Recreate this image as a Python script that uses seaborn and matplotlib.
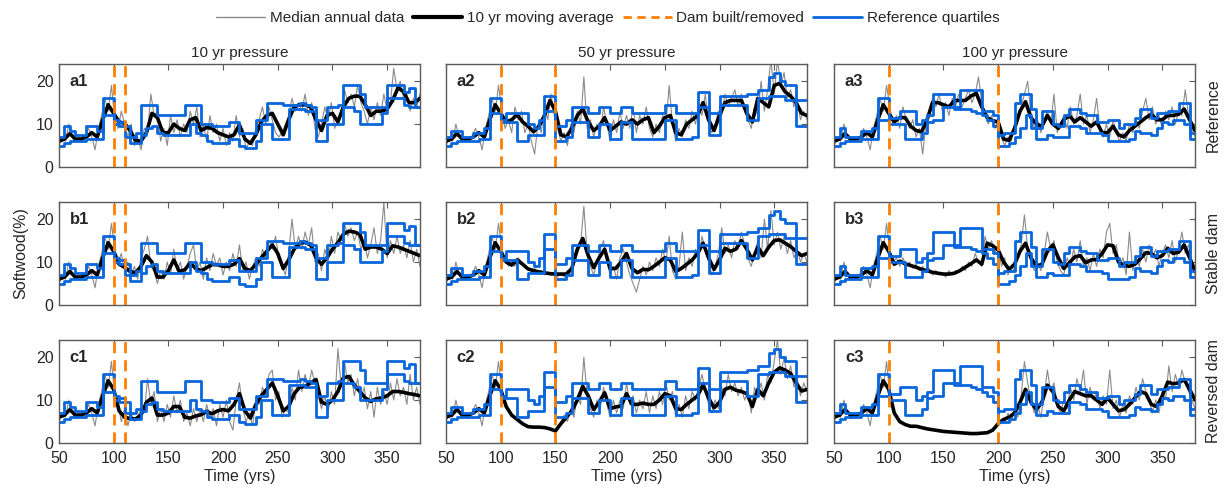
import numpy as np
import matplotlib
matplotlib.use("Agg")
import matplotlib.pyplot as plt
import seaborn as sns
from matplotlib.lines import Line2D

# ---- time grids ----
YEARS_MA = np.arange(50, 381, 5)      # 10 yr moving average, sampled every 5 yrs
YEARS_ANN = np.arange(50, 381, 3)     # median annual data, sampled every 3 yrs
YEARS_Q = np.arange(50, 381, 5)       # reference quartiles (step values)

# ---- shared spin-up (identical in all panels) ----
MA_SPINUP = [6.0, 6.5, 7.8, 6.5, 6.5, 7.0, 8.0, 7.0, 11.0, 14.5]               # 50..95
ANN_SPINUP = [5, 7, 6, 10, 7, 6, 7, 6, 7, 9, 7, 4, 9, 12, 16, 13, 19]          # 50..98

# ---- 10 yr moving average, years 100..380 ----
MA_A1 = [12.5, 10.5, 10.2, 8.5, 6.2, 6.0, 8.0, 12.5, 11.5, 8.0,
         8.0, 10.0, 9.0, 8.5, 11.0, 11.5, 8.5, 9.2, 9.0, 8.0,
         7.5, 7.0, 7.5, 9.8, 6.5, 5.5, 7.5, 10.5, 12.0, 12.5,
         10.0, 7.5, 11.0, 14.0, 14.5, 14.5, 14.0, 11.0, 8.5, 12.0,
         12.5, 10.5, 14.0, 16.0, 16.5, 16.5, 14.5, 12.0, 13.0, 13.0,
         13.5, 15.5, 18.5, 17.5, 15.0, 15.0, 16.0]
MA_A2 = [12.5, 10.5, 11, 12.2, 10.5, 9.5, 8.2, 9.5, 12, 15.5,
         13, 7.5, 7, 9, 12, 13.5, 10.5, 8.5, 9.5, 11.5,
         8.5, 9.5, 10.5, 10, 11, 10, 11, 11.5, 8, 9.5,
         11.5, 12, 8, 7.5, 10, 11, 12, 15, 11, 8.5,
         12, 15, 15.5, 15.5, 15.5, 12.5, 10.5, 16, 15, 14,
         19, 19.5, 17.5, 16.5, 15, 12.5, 12]
MA_A3 = [12.5, 10.5, 11.5, 11.5, 9.5, 8.5, 8.2, 11, 15, 15,
         14.5, 14, 15.5, 15.5, 15.5, 16.5, 17.2, 14, 11.5, 10.8,
         10.5, 6.5, 6.2, 9, 13, 15.2, 11.5, 10, 9.5, 12,
         10, 9, 11, 12, 10.5, 11.5, 10.5, 9.5, 10.5, 8,
         8, 9.5, 7.5, 7, 8.5, 9.5, 10.5, 11.5, 12.3, 11,
         11, 12, 12, 12.3, 13.5, 11, 8.5]
MA_B1 = [12.5, 9.5, 8.8, 7.8, 7.5, 9, 11.5, 10, 6.5, 6.5,
         8, 10.5, 7.8, 8.2, 9.8, 8.5, 8, 8.7, 9.4, 9.4,
         9, 9, 9.5, 10.8, 8.5, 8, 9.5, 11, 12.5, 14,
         12, 8.5, 10.5, 13, 14.4, 14.6, 14, 11, 9.5, 11,
         13, 14.5, 16.5, 17.2, 17, 16.5, 13, 13.5, 13.5, 13,
         12, 13.8, 13.5, 13, 12.5, 12, 11.5]
MA_B2 = [12.5, 10, 9.3, 10.5, 9.5, 8.4, 8, 7.7, 7.5, 7.3,
         7.2, 7.2, 7.2, 8.5, 13, 15.5, 11.5, 8.7, 11, 13,
         8.5, 8.5, 10, 12, 8.5, 7.5, 8.3, 8.2, 9, 10,
         11, 10.5, 7.8, 8.5, 9.5, 10.5, 12, 14.4, 11, 8.3,
         10.5, 13.2, 12.5, 13, 15, 13, 10.5, 13.5, 11.5, 13.5,
         15, 15.2, 14.4, 13.6, 12.5, 11.5, 12]
MA_B3 = [12.5, 9.5, 10.2, 9.6, 9.2, 8.8, 8.3, 8, 7.6, 7.4,
         7.2, 7.2, 7.4, 8, 8.8, 9.6, 10.5, 9.5, 14.4, 13.8,
         12.8, 10, 8.3, 9.5, 12.5, 14.4, 11, 9, 9.5, 12.5,
         14, 11, 8.5, 9.8, 11.2, 11.5, 9.8, 10.5, 10.6, 12,
         14, 13.8, 10, 9.2, 9, 9.5, 10.8, 12.2, 12, 11,
         11.5, 13.2, 12, 12.3, 14, 11, 7.9]
MA_C1 = [12.5, 7.5, 6, 5.7, 5.6, 6.5, 9.5, 10.5, 6.5, 6.5,
         7, 8.5, 8.5, 6, 5.8, 6.3, 6.6, 7.4, 6.8, 7.5,
         7.8, 7.5, 9, 11.5, 7.5, 5.8, 9, 11, 12.5, 14,
         11, 7.5, 8.5, 11.5, 13, 13.2, 14, 14.8, 9.5, 9,
         10, 12, 15.2, 15.5, 13.5, 12, 10.5, 9.7, 10.3, 10.5,
         11, 12, 12, 11.8, 11.5, 11.3, 11]
MA_C2 = [12.5, 8.5, 6.5, 5.5, 4.5, 3.8, 3.7, 3.7, 3.6, 3.3,
         2.8, 4.5, 6, 7.5, 10, 13.2, 11, 7.8, 9.5, 11.7,
         8, 8.4, 8.6, 11.5, 9, 9, 9.3, 9, 9, 10,
         11.5, 11, 8, 7.8, 9, 10, 11, 13.6, 10.5, 8.2,
         9.5, 12.5, 13, 12.3, 12, 11.5, 8.5, 12.5, 11, 14,
         16.5, 17.5, 17, 16.2, 14, 12.1, 12.5]
MA_C3 = [12.5, 7, 5, 4.3, 3.9, 3.9, 3.6, 3.3, 3.1, 2.9,
         2.7, 2.6, 2.5, 2.4, 2.3, 2.2, 2.2, 2.3, 2.4, 3,
         4.5, 5.5, 6, 7, 9.5, 12.5, 9.5, 7.8, 9.5, 13.5,
         12, 8.5, 7.5, 10, 12, 11.5, 11, 11, 10, 9,
         10.5, 9, 7.5, 7.8, 9, 10.5, 12, 11.5, 9, 8.5,
         11, 14.2, 13.8, 14, 14.8, 12.5, 10]

# ---- median annual data, years 101..380 ----
ANN_A1 = [11, 9, 13, 10, 7, 10, 5, 7, 4, 9,
          8, 17, 12, 13, 6, 9, 5, 12, 8, 11,
          7, 10, 8, 13, 10, 14, 7, 10, 6, 12,
          8, 10, 6, 9, 5, 8, 6, 12, 7, 9,
          4, 6, 5, 9, 11, 14, 10, 14, 11, 8,
          7, 8, 10, 12, 16, 13, 15, 13, 17, 12,
          15, 9, 7, 10, 14, 11, 15, 9, 11, 13,
          18, 15, 17, 14, 19, 15, 13, 10, 14, 11,
          15, 12, 17, 13, 15, 23, 18, 20, 16, 17,
          13, 16, 14, 17]
ANN_A2 = [13, 9, 11, 8, 14, 11, 13, 8, 10, 6,
          3, 10, 8, 14, 11, 17, 12, 9, 6, 8,
          5, 10, 8, 13, 10, 21, 9, 11, 7, 10,
          8, 14, 10, 6, 11, 8, 13, 9, 12, 9,
          14, 8, 12, 10, 14, 9, 7, 10, 8, 12,
          10, 19, 10, 6, 9, 7, 11, 9, 13, 10,
          14, 12, 17, 10, 8, 10, 13, 12, 17, 14,
          16, 18, 14, 17, 13, 11, 9, 14, 12, 20,
          13, 18, 25, 17, 25, 19, 22, 16, 18, 14,
          16, 11, 13, 11]
ANN_A3 = [14, 10, 12, 9, 14, 11, 9, 11, 7, 9,
          3, 10, 13, 16, 14, 17, 13, 15, 12, 16,
          14, 17, 14, 16, 18, 15, 17, 21, 15, 12,
          10, 12, 9, 11, 7, 5, 7, 6, 10, 12,
          14, 17, 20, 12, 9, 11, 8, 11, 13, 10,
          17, 8, 10, 12, 9, 14, 10, 12, 17, 10,
          12, 8, 11, 16, 9, 7, 10, 7, 11, 8,
          6, 8, 6, 10, 8, 11, 9, 13, 16, 11,
          14, 10, 12, 9, 13, 11, 14, 10, 13, 12,
          18, 12, 9, 7]
ANN_B1 = [13, 10, 12, 8, 10, 7, 9, 6, 11, 13,
          16, 9, 8, 5, 8, 6, 10, 7, 13, 8,
          10, 6, 9, 12, 14, 8, 10, 6, 11, 8,
          12, 9, 11, 7, 10, 8, 12, 9, 14, 8,
          10, 6, 9, 11, 9, 13, 11, 15, 13, 16,
          11, 9, 7, 12, 20, 13, 16, 13, 17, 14,
          18, 10, 12, 8, 13, 10, 16, 12, 17, 15,
          19, 16, 18, 15, 17, 13, 15, 11, 14, 18,
          12, 15, 24, 11, 15, 12, 16, 12, 14, 11,
          15, 10, 13, 9]
ANN_B2 = [13, 11, 9, 10, 9, 11, 10, 9, 8.5, 8,
          8.5, 7.5, 8, 7, 7.5, 7, 7.5, 6.5, 7.5, 6.5,
          8, 7, 10, 12, 14, 23, 12, 9, 7, 10,
          13, 15, 10, 7, 9, 6, 11, 13, 10, 7,
          5, 3, 6, 9, 7, 10, 8, 11, 9, 13,
          10, 16, 8, 6, 9, 17, 8, 11, 9, 13,
          11, 16, 13, 10, 7, 9, 12, 18, 12, 14,
          11, 15, 13, 17, 14, 11, 9, 12, 15, 11,
          20, 13, 22, 14, 17, 13, 16, 12, 15, 11,
          13, 10, 12, 10]
ANN_B3 = [12, 10, 11, 9, 11, 9, 10, 8.5, 9.5, 8,
          9, 7.5, 8.5, 7, 8, 7, 7.5, 6.5, 8, 7,
          8, 7.5, 9, 8, 10, 9, 12, 10, 9, 16,
          13, 15, 12, 14, 9, 11, 7, 9, 8, 12,
          14, 21, 13, 10, 8, 10, 8, 12, 17, 13,
          15, 10, 8, 7, 11, 9, 13, 10, 15, 9,
          11, 8, 12, 9, 13, 11, 17, 19, 12, 14,
          9, 11, 7, 17, 8, 11, 9, 13, 10, 14,
          11, 13, 9, 12, 14, 11, 15, 10, 13, 17,
          12, 14, 9, 7]
ANN_C1 = [11, 9, 5, 8, 4, 7, 5, 6, 8, 7,
          15, 9, 12, 5, 8, 5, 9, 6, 11, 7,
          10, 5, 7, 4, 8, 5, 8, 5, 9, 6,
          8, 4, 9, 6, 10, 5, 3, 10, 14, 8,
          5, 7, 4, 10, 9, 13, 11, 16, 17, 10,
          12, 6, 8, 7, 13, 10, 17, 12, 16, 13,
          17, 14, 11, 8, 11, 7, 12, 9, 22, 13,
          19, 14, 16, 11, 15, 10, 13, 8, 12, 6,
          13, 9, 12, 9, 14, 10, 15, 11, 13, 9,
          16, 10, 13, 9]
ANN_C2 = [12, 9.5, 7.5, 6.5, 5.8, 5.3, 4.6, 4.2, 3.9, 3.6,
          3.9, 3.5, 3.8, 3.4, 3.6, 3.1, 2.8, 3.5, 5, 6.5,
          5, 8, 6, 11, 9, 20, 11, 8, 6, 10,
          8, 13, 9, 6, 10, 7, 10, 8, 14, 9,
          11, 7, 10, 8, 12, 7, 11, 8, 12, 9,
          14, 10, 12, 6, 9, 6, 11, 8, 12, 10,
          13, 16, 12, 9, 7, 10, 8, 13, 11, 16,
          12, 14, 11, 13, 10, 12, 7, 13, 11, 14,
          10, 16, 14, 19, 24, 16, 20, 15, 18, 13,
          15, 11, 14, 12]
ANN_C3 = [11, 8, 6, 5, 4.6, 4.2, 3.8, 4.1, 3.7, 3.9,
          3.4, 3.6, 3.1, 3.3, 2.8, 3.1, 2.6, 2.9, 2.5, 2.8,
          2.3, 2.6, 2.2, 2.5, 2.1, 2.4, 2.0, 2.4, 2.1, 2.6,
          2.5, 3.1, 3.6, 4.4, 5.5, 4.5, 7, 5, 8, 6,
          11, 19, 14, 10, 7, 9, 6, 11, 17, 12,
          14, 9, 7, 10, 8, 13, 10, 15, 12, 17,
          9, 13, 10, 12, 8, 11, 9, 17, 8, 10,
          6, 9, 7, 11, 9, 13, 10, 15, 12, 10,
          7, 10, 7, 12, 10, 18, 12, 16, 13, 17,
          14, 12, 10, 8]

# ---- reference quartiles per column, years 50..380 (step values) ----
Q3_COL1 = [7, 9.5, 8.5, 7.5, 7.5, 9.5, 9.5, 8.5, 16, 16,
           11, 10.5, 9.5, 7, 8, 14.5, 14.5, 14.5, 12, 12,
           12, 12, 12, 14.5, 14.5, 14.5, 10, 10, 9.5, 9.5,
           9.5, 10.5, 10.5, 8, 8, 8, 11, 11, 15, 15,
           15, 14.5, 14.5, 14.5, 15, 14.5, 14, 11, 11, 14,
           14, 14.5, 19, 19, 19, 17, 14, 14, 14, 14,
           19, 19, 19, 17.5, 18.5, 14, 14]
Q1_COL1 = [5, 5.5, 6, 6, 6, 6.5, 6.5, 6.5, 12, 12,
           10, 9.5, 7, 5.5, 5.5, 7.5, 9, 9.5, 8, 7.5,
           7.5, 7.5, 7.5, 7.5, 10, 8, 7.5, 6, 5.5, 5.5,
           5.5, 6.5, 6.5, 5, 4.5, 4.5, 6, 10, 10, 6.5,
           6.5, 6.5, 13.5, 13.5, 13.5, 13, 13, 6, 6, 10,
           10, 10, 14, 14, 13, 10, 10, 10, 10, 12.5,
           16, 16, 16, 14.5, 14, 14, 14]
Q3_COL2 = [7, 8.5, 8.5, 7, 7, 8, 8, 9, 16, 16,
           11, 12.5, 12.5, 12.5, 12.5, 10, 9, 11, 16.5, 16.5,
           9.5, 9.5, 11, 14, 14, 14, 12.5, 12.5, 14, 14,
           12.5, 12.5, 14, 14, 12.5, 12.5, 12.5, 12.5, 12.5, 12.5,
           14.5, 14.5, 12.5, 12.5, 12.5, 12.5, 17.5, 17.5, 12.5, 12.5,
           16.5, 16.5, 16.5, 16.5, 16.5, 17, 17, 18, 18, 21,
           22, 20, 19, 19, 15.5, 15.5, 15.5]
Q1_COL2 = [5, 5.5, 6, 6, 6, 6, 6.5, 6.5, 12.5, 12.5,
           10.5, 10.5, 10.5, 6, 6, 7.5, 7.5, 7.5, 13, 13,
           6, 6, 7, 10.5, 10.5, 10.5, 7, 7, 10, 10,
           6.5, 6.5, 10.5, 10.5, 6.5, 6.5, 6.5, 6.5, 6.5, 6.5,
           11, 11, 6.5, 6.5, 6.5, 7, 14, 14, 7.5, 7.5,
           14.5, 14.5, 14.5, 14.5, 14.5, 11, 11, 16, 16, 16.5,
           16.5, 16.5, 15.5, 15.5, 9.5, 9.5, 9.5]
Q3_COL3 = [7, 9, 7, 7, 7, 8.5, 8.5, 9, 16, 16,
           11.5, 11.5, 13, 13, 13, 10, 11, 12, 17, 17,
           17, 17, 13.5, 18, 18, 18, 18, 13, 13, 12,
           7.5, 8, 8, 15, 17, 17, 13.5, 9, 13, 13,
           10, 9.5, 12, 13.5, 13.5, 12.5, 12, 12, 10.5, 10.5,
           11, 11, 9, 10, 10, 11.5, 13.5, 13.5, 11.5, 12.5,
           12.5, 13, 13, 15, 15, 8, 8]
Q1_COL3 = [5, 5.5, 6, 6, 6, 6.5, 6.5, 6.5, 11, 11,
           10, 10, 10, 6.5, 6.5, 6.5, 8, 10.5, 11, 11,
           14, 14, 14, 13.5, 13.5, 13, 12.5, 12, 11, 9.5,
           5, 5, 5.5, 7, 9, 12, 9, 6.5, 6.5, 7.5,
           7, 7, 7, 9.5, 9.5, 9, 8, 8, 8, 7.5,
           6, 6, 6, 6, 6.5, 8.5, 8, 8, 7.5, 9,
           10.5, 10, 11, 11, 10, 6.5, 6.5]

DAM_YEARS = [(100, 110), (100, 150), (100, 200)]
COL_TITLES = ["10 yr pressure", "50 yr pressure", "100 yr pressure"]
ROW_LABELS = ["Reference", "Stable dam", "Reversed dam"]
ROW_KEYS = ["a", "b", "c"]

MA_PANELS = {"a1": MA_A1, "a2": MA_A2, "a3": MA_A3,
             "b1": MA_B1, "b2": MA_B2, "b3": MA_B3,
             "c1": MA_C1, "c2": MA_C2, "c3": MA_C3}
ANN_PANELS = {"a1": ANN_A1, "a2": ANN_A2, "a3": ANN_A3,
              "b1": ANN_B1, "b2": ANN_B2, "b3": ANN_B3,
              "c1": ANN_C1, "c2": ANN_C2, "c3": ANN_C3}
QUARTILES = [(Q1_COL1, Q3_COL1), (Q1_COL2, Q3_COL2), (Q1_COL3, Q3_COL3)]

GRAY = "#8a8a8a"
BLUE = "#0a66dc"
ORANGE = "#ff8000"
FRAME = "#5a5a5a"

sns.set_style("white")
plt.rcParams["font.family"] = ["Liberation Sans", "DejaVu Sans"]
plt.rcParams["font.size"] = 11

fig = plt.figure(figsize=(12.28, 4.9), dpi=100)

lefts = [0.048, 0.3632, 0.6792]
bottoms = [0.6592, 0.3776, 0.0959]
width, height = 0.294, 0.2102

for r, row in enumerate(ROW_KEYS):
    for c in range(3):
        key = f"{row}{c + 1}"
        ax = fig.add_axes([lefts[c], bottoms[r], width, height])

        ann = np.concatenate([ANN_SPINUP, ANN_PANELS[key]])
        ma = np.concatenate([MA_SPINUP, MA_PANELS[key]])
        q1, q3 = QUARTILES[c]

        sns.lineplot(x=YEARS_ANN, y=ann, ax=ax, color=GRAY, linewidth=0.8,
                     estimator=None, sort=False, legend=False)
        sns.lineplot(x=YEARS_MA, y=ma, ax=ax, color="black", linewidth=2.6,
                     estimator=None, sort=False, legend=False)
        for q in (q1, q3):
            sns.lineplot(x=YEARS_Q, y=q, ax=ax, color=BLUE, linewidth=2.0,
                         drawstyle="steps-post", estimator=None, sort=False,
                         legend=False)
        for yr in DAM_YEARS[c]:
            ax.axvline(yr, color=ORANGE, linewidth=2.0, linestyle=(0, (4, 2.5)))

        ax.set_xlim(50, 380)
        ax.set_ylim(0, 24)
        ax.set_xticks(range(50, 381, 50))
        ax.set_yticks([0, 10, 20])
        ax.tick_params(direction="in", length=4, top=True, right=True,
                       color=FRAME, labelsize=11.5)
        ax.tick_params(axis="x", pad=6)
        ax.tick_params(axis="y", pad=4)
        for sp in ax.spines.values():
            sp.set_color(FRAME)
            sp.set_linewidth(1.0)
        if r < 2:
            ax.set_xticklabels([])
        else:
            ax.set_xlabel("Time (yrs)", fontsize=11.5, labelpad=2)
        if c > 0:
            ax.set_yticklabels([])
        ax.set_ylabel("")
        if r == 0:
            ax.set_title(COL_TITLES[c], fontsize=11, pad=5)
        ax.text(0.03, 0.83, key, transform=ax.transAxes, fontsize=12,
                fontweight="bold", va="center", ha="left")

for r, lab in enumerate(ROW_LABELS):
    fig.text(0.988, bottoms[r] + height / 2, lab, rotation=90,
             ha="center", va="center", fontsize=11.5)

fig.text(0.017, bottoms[1] + height / 2, "Softwood(%)", rotation=90,
         ha="center", va="center", fontsize=11.5)

handles = [
    Line2D([], [], color=GRAY, linewidth=1.0),
    Line2D([], [], color="black", linewidth=3.0),
    Line2D([], [], color=ORANGE, linewidth=2.0, linestyle=(0, (3, 2))),
    Line2D([], [], color=BLUE, linewidth=2.0),
]
labels = ["Median annual data", "10 yr moving average",
          "Dam built/removed", "Reference quartiles"]
fig.legend(handles, labels, loc="center", bbox_to_anchor=(0.495, 0.963),
           ncol=4, frameon=False, fontsize=11, handlelength=3.2,
           handletextpad=0.3, columnspacing=0.6)

fig.savefig("out.png", dpi=100)
